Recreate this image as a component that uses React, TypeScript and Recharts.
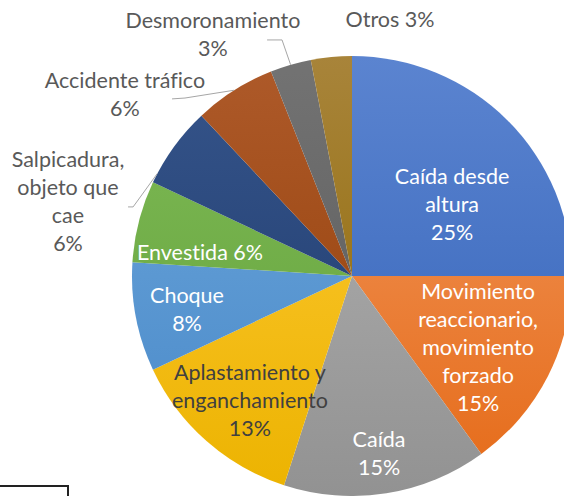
import { Cell, Pie, PieChart } from "recharts";

const categories = [
  "Caída desde altura",
  "Movimiento reaccionario, movimiento forzado",
  "Caída",
  "Aplastamiento y enganchamiento",
  "Choque",
  "Envestida",
  "Salpicadura, objeto que cae",
  "Accidente tráfico",
  "Desmoronamiento",
  "Otros",
];
const values = [25, 15, 15, 13, 8, 6, 6, 6, 3, 3];

// how each category name breaks across lines in its label
const nameLines = [
  ["Caída desde", "altura"],
  ["Movimiento", "reaccionario,", "movimiento", "forzado"],
  ["Caída"],
  ["Aplastamiento y", "enganchamiento"],
  ["Choque"],
  ["Envestida"],
  ["Salpicadura,", "objeto que", "cae"],
  ["Accidente tráfico"],
  ["Desmoronamiento"],
  ["Otros"],
];

const topColors = ["#5b84d0", "#f29a62", "#b4b4b4", "#ffcb3a", "#6ea8dc", "#80bb57", "#36558b", "#ae5a2a", "#737373", "#a8843a"];
const bottomColors = ["#3262b8", "#e56a17", "#929292", "#ecb300", "#4888c8", "#61a039", "#1d396b", "#913d05", "#575757", "#8d6700"];

// label block centre, relative to pie centre, in units of the radius
const labelPos = [
  { dx: 0.455, dy: -0.327, color: "#fff" },
  { dx: 0.573, dy: 0.327, color: "#fff" },
  { dx: 0.123, dy: 0.805, color: "#fff" },
  { dx: -0.464, dy: 0.564, color: "#404040" },
  { dx: -0.75, dy: 0.15, color: "#fff" },
  { dx: -0.691, dy: -0.109, color: "#fff", inline: true },
  { dx: -1.291, dy: -0.341, color: "#595959", leader: [[-0.995, -0.314], [-1.018, -0.314]], at: 0.12 },
  { dx: -1.032, dy: -0.827, color: "#595959", leader: [[-0.759, -0.809], [-0.818, -0.805]], at: 0.5 },
  { dx: -0.632, dy: -1.1, color: "#595959", leader: [[-0.318, -1.073], [-0.386, -1.073]], at: 0.5 },
  { dx: 0.173, dy: -1.164, color: "#595959", inline: true },
];

const RAD = Math.PI / 180;
const FONT = 21.5;
const LINE_H = 28;

const data = categories.map((name, i) => ({ name, value: values[i] }));

function renderLabel(props: any) {
  const { cx, cy, outerRadius, index, value, midAngle, startAngle, endAngle } = props;
  const cfg: any = labelPos[index];
  const r = outerRadius;
  const x = cx + cfg.dx * r;
  const y = cy + cfg.dy * r;
  const lines = cfg.inline
    ? [`${nameLines[index].join(" ")} ${value}%`]
    : [...nameLines[index], `${value}%`];
  const y0 = y - ((lines.length - 1) * LINE_H) / 2 + FONT * 0.35;

  let leader = null;
  if (cfg.leader) {
    const a =
      startAngle !== undefined && endAngle !== undefined
        ? startAngle + cfg.at * (endAngle - startAngle)
        : midAngle;
    const ex = cx + r * Math.cos(-a * RAD);
    const ey = cy + r * Math.sin(-a * RAD);
    const pts = [
      [ex, ey],
      [cx + cfg.leader[0][0] * r, cy + cfg.leader[0][1] * r],
      [cx + cfg.leader[1][0] * r, cy + cfg.leader[1][1] * r],
    ];
    leader = (
      <polyline
        points={pts.map((p) => p.join(",")).join(" ")}
        fill="none"
        stroke="#a6a6a6"
        strokeWidth={1}
      />
    );
  }

  return (
    <g key={`lbl-${index}`}>
      {leader}
      <text
        x={x}
        y={y0}
        textAnchor="middle"
        fill={cfg.color}
        fontSize={FONT}
        fontFamily="Lato, 'Open Sans', sans-serif"
        style={{ fontVariantLigatures: "none" }}
      >
        {lines.map((ln, i) => (
          <tspan key={i} x={x} dy={i === 0 ? 0 : LINE_H}>
            {ln}
          </tspan>
        ))}
      </text>
    </g>
  );
}

export default function App() {
  return (
    <div style={{ position: "absolute", left: 0, top: 0, width: 564, height: 496, background: "#fff", overflow: "hidden" }}>
      <PieChart width={564} height={496} margin={{ top: 0, right: 0, bottom: 0, left: 0 }}>
        <defs>
          {topColors.map((c, i) => (
            <linearGradient key={i} id={`g${i}`} gradientUnits="userSpaceOnUse" x1={0} y1={56} x2={0} y2={496}>
              <stop offset="0%" stopColor={c} />
              <stop offset="100%" stopColor={bottomColors[i]} />
            </linearGradient>
          ))}
        </defs>
        <Pie
          data={data}
          dataKey="value"
          nameKey="name"
          cx={352}
          cy={276}
          outerRadius={220}
          startAngle={90}
          endAngle={-270}
          stroke="none"
          label={renderLabel}
          labelLine={false}
          isAnimationActive={false}
        >
          {data.map((_, i) => (
            <Cell key={i} fill={`url(#g${i})`} />
          ))}
        </Pie>
      </PieChart>
      <div
        style={{
          position: "absolute",
          left: -2,
          top: 485,
          width: 67,
          height: 20,
          border: "2px solid #222",
        }}
      />
    </div>
  );
}
